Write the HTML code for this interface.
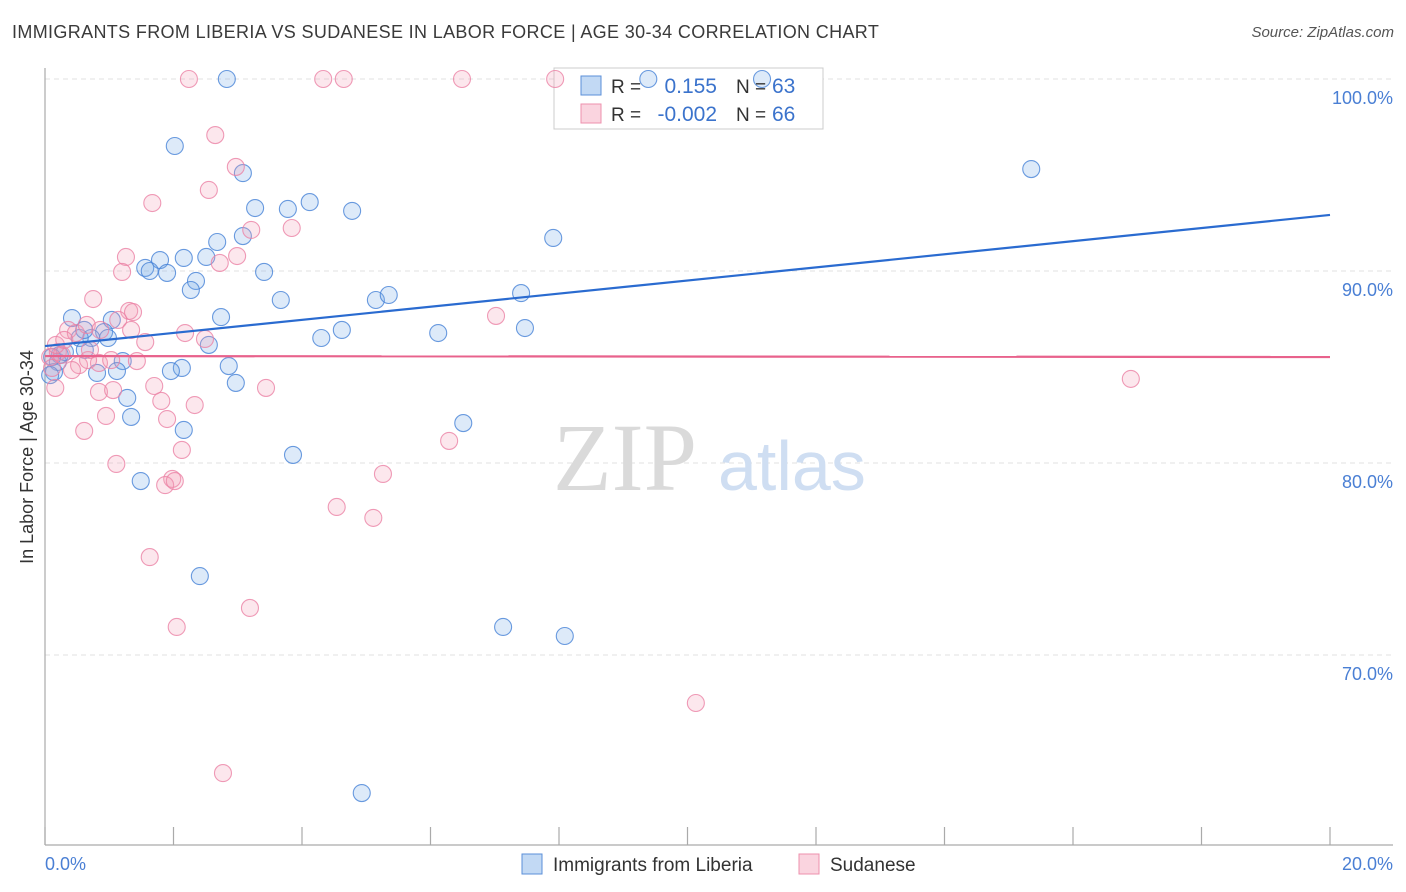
<!DOCTYPE html>
<html><head><meta charset="utf-8">
<style>
body{margin:0;background:#fff;font-family:"Liberation Sans",sans-serif;}
#wrap{position:relative;width:1406px;height:892px;overflow:hidden;}
.title{position:absolute;left:12px;top:22px;font-size:18px;color:#3a3a3a;letter-spacing:0.35px;}
.source{position:absolute;right:12px;top:24px;font-size:15px;color:#555;font-style:italic;}
</style></head><body>
<div id="wrap">
<div class="title">IMMIGRANTS FROM LIBERIA VS SUDANESE IN LABOR FORCE | AGE 30-34 CORRELATION CHART</div>
<div class="source">Source: ZipAtlas.com</div>
<svg id="chart" width="1406" height="892" style="position:absolute;left:0;top:0"></svg>
</div>
<script>
const blueX=[2.02,2.83,3.08,3.27,3.78,4.12,4.78,2.68,3.08,2.51,2.16,1.79,1.56,1.63,1.90,3.41,2.35,2.27,3.67,5.15,5.35,2.74,0.42,1.04,0.92,0.72,0.54,0.98,2.55,4.30,4.62,6.12,7.41,7.47,7.91,15.35,9.39,11.16,1.21,2.13,1.96,1.12,0.81,0.20,0.14,0.08,2.86,2.97,1.28,1.34,2.16,3.86,6.51,1.49,2.41,7.13,8.09,4.93,0.23,0.31,0.62,0.11,0.61];
const blueY=[96.51,100,95.10,93.28,93.23,93.59,93.13,91.51,91.82,90.73,90.68,90.57,90.16,90.00,89.90,89.95,89.48,89.01,88.49,88.49,88.75,87.60,87.55,87.45,86.82,86.51,86.51,86.51,86.15,86.51,86.93,86.77,88.85,87.03,91.72,95.31,100,100,85.31,84.95,84.79,84.79,84.69,85.26,84.74,84.58,85.05,84.17,83.39,82.40,81.72,80.42,82.08,79.06,74.11,71.46,70.99,62.81,85.63,85.78,85.89,85.52,86.93];
const pinkX=[2.24,4.33,4.65,6.49,7.94,2.65,2.97,2.55,1.67,3.21,3.84,2.99,2.72,1.26,1.20,0.75,1.31,1.37,1.14,0.36,0.48,0.65,0.86,1.34,1.56,2.18,2.49,7.02,0.20,0.08,0.11,0.53,0.84,1.03,1.43,1.70,0.84,1.06,3.44,1.81,2.33,0.95,1.90,0.61,6.29,2.13,1.11,5.26,1.98,1.87,2.02,4.54,5.11,1.63,3.19,2.05,10.13,2.77,16.90,0.16,0.26,0.67,0.42,0.17,0.30,0.70];
const pinkY=[100,100,100,100,100,97.08,95.42,94.22,93.54,92.14,92.24,90.78,90.42,90.73,89.95,88.54,87.92,87.86,87.45,86.93,86.77,87.19,86.93,86.93,86.30,86.77,86.46,87.66,85.78,85.52,84.95,85.10,85.21,85.36,85.31,84.01,83.70,83.80,83.91,83.23,83.02,82.45,82.29,81.67,81.15,80.68,79.95,79.43,79.17,78.85,79.06,77.71,77.14,75.10,72.45,71.46,67.50,63.85,84.38,83.91,85.63,85.36,84.84,86.15,86.41,85.89];
const blueTrend=[86.09,92.92];
const pinkTrend=[85.57,85.52];
const yTicks=[100,90,80,70];
const yTickLabels=["100.0%","90.0%","80.0%","70.0%"];
const xTicks=[0,2,4,6,8,10,12,14,16,18,20];

const NS="http://www.w3.org/2000/svg";
const svg=document.getElementById('chart');
const sx=v=>45+v*64.25;
const sy=v=>79+(100-v)*19.2;
function mk(tag,attrs,parent){const e=document.createElementNS(NS,tag);for(const k in attrs)e.setAttribute(k,attrs[k]);(parent||svg).appendChild(e);return e;}

yTicks.forEach((t,i)=>{
  const g=mk('line',{x1:45,x2:1393,y1:sy(t),y2:sy(t),stroke:'#e0e0e0','stroke-dasharray':'5,4','stroke-width':1});
  
  
  const tx=mk('text',{x:1393,y:sy(t)+25,'text-anchor':'end','font-size':18,fill:'#4a7fd4','font-family':'Liberation Sans, sans-serif'});
  tx.textContent=yTickLabels[i];
  
  
});
const ya=mk('line',{x1:45,x2:45,y1:68,y2:845,stroke:'#aaa','stroke-width':1.2});


const xa=mk('line',{x1:45,x2:1393,y1:845,y2:845,stroke:'#aaa','stroke-width':1.2});


xTicks.forEach(t=>{
  const l=mk('line',{x1:sx(t),x2:sx(t),y1:827,y2:845,stroke:'#aaa','stroke-width':1.2});
  
  
});
let t0=mk('text',{x:45,y:870,'font-size':18,fill:'#4a7fd4'});t0.textContent='0.0%';


let t1=mk('text',{x:1393,y:870,'font-size':18,fill:'#4a7fd4','text-anchor':'end'});t1.textContent='20.0%';


let yt=mk('text',{x:0,y:0,'font-size':18,fill:'#333','text-anchor':'middle',transform:'translate(33,457) rotate(-90)'});yt.textContent='In Labor Force | Age 30-34';



let wm=mk('text',{x:553,y:490,'font-size':96,fill:'#dadada','font-family':'Liberation Serif, serif'});wm.textContent='ZIP';


let wm2=mk('text',{x:718,y:490,'font-size':70,fill:'#cfdef2'});wm2.textContent='atlas';



// legend box behind points
const lg=mk('g',{});


mk('rect',{x:554,y:68,width:269,height:61,fill:'#fff',stroke:'#ccc'},lg);

blueX.forEach((x,i)=>{
  const c=mk('circle',{cx:sx(x),cy:sy(blueY[i]),r:8.5,fill:'rgba(120,170,230,0.25)',stroke:'rgba(70,130,215,0.8)','stroke-width':1.1});
  
  
});
pinkX.forEach((x,i)=>{
  const c=mk('circle',{cx:sx(x),cy:sy(pinkY[i]),r:8.5,fill:'rgba(245,160,185,0.25)',stroke:'rgba(235,130,165,0.8)','stroke-width':1.1});
  
  
});
const bl=mk('line',{x1:sx(0),y1:sy(blueTrend[0]),x2:sx(20),y2:sy(blueTrend[1]),stroke:'#2a6bd0','stroke-width':2.2});


const pl=mk('line',{x1:sx(0),y1:sy(pinkTrend[0]),x2:sx(20),y2:sy(pinkTrend[1]),stroke:'#e8628c','stroke-width':2.2});



const lg2=mk('g',{});


mk('rect',{x:581,y:76,width:20,height:19,fill:'rgba(120,170,230,0.45)',stroke:'#5b8fd8'},lg2);
mk('rect',{x:581,y:104,width:20,height:19,fill:'rgba(245,160,185,0.45)',stroke:'#ee90ad'},lg2);
const rows=[['0.155','63',93],['-0.002','66',121]];
rows.forEach(r=>{
  let a=mk('text',{x:611,y:r[2],'font-size':19,fill:'#333'},lg2);a.textContent='R = ';
  let b=mk('text',{x:717,y:r[2],'font-size':21,fill:'#3b73cc','text-anchor':'end'},lg2);b.textContent=r[0];
  let c=mk('text',{x:736,y:r[2],'font-size':19,fill:'#333'},lg2);c.textContent='N = ';
  let d=mk('text',{x:772,y:r[2],'font-size':21,fill:'#3b73cc'},lg2);d.textContent=r[1];
});

const bg=mk('g',{});


const e1=mk('rect',{x:522,y:854,width:20,height:20,fill:'rgba(120,170,230,0.45)',stroke:'#5b8fd8'},bg);


let l1=mk('text',{x:553,y:871,'font-size':19,fill:'#333'},bg);l1.textContent='Immigrants from Liberia';
const e2=mk('rect',{x:799,y:854,width:20,height:20,fill:'rgba(245,160,185,0.45)',stroke:'#ee90ad'},bg);


let l2=mk('text',{x:830,y:871,'font-size':19,fill:'#333'},bg);l2.textContent='Sudanese';
</script>
</body></html>
